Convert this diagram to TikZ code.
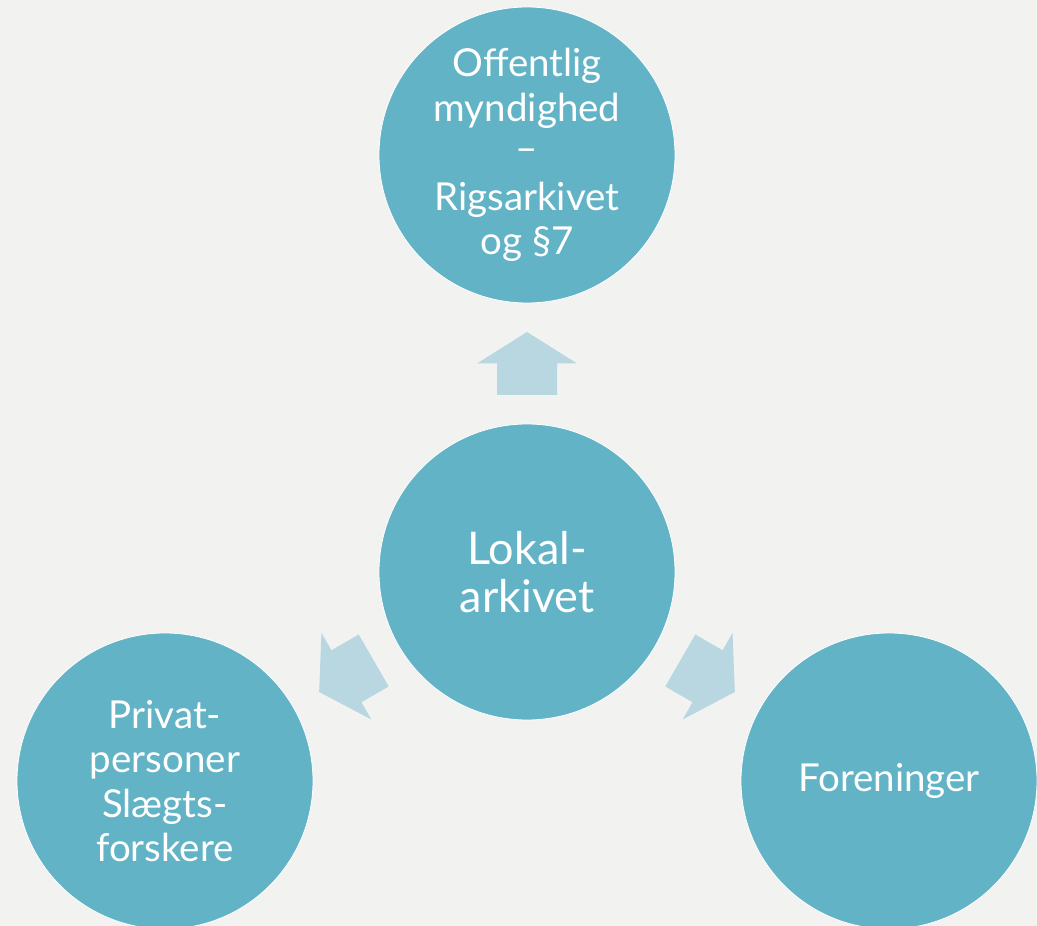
\documentclass[tikz,border=0pt]{standalone}
\usepackage{fontspec}
\setmainfont{Lato}
\definecolor{bg}{HTML}{F2F2F0}
\definecolor{circ}{HTML}{63B3C7}
\definecolor{arr}{HTML}{B8D7E1}
\tikzset{
  bubble/.style={circle, minimum size=296pt, inner sep=0pt, fill=circ, draw=white, line width=0.8pt,
    text=white, align=center, font=\fontsize{38.5}{44.5}\selectfont},
  bigbubble/.style={bubble, font=\fontsize{45}{48}\selectfont},
  blockarrow/.style={fill=arr, draw=none}
}
\newcommand{\blockarrowshape}{%
  (-31.5,-30) -- (0,-30) -- (0,-50) -- (31.5,0) -- (0,50) -- (0,30) -- (-31.5,30) -- cycle}
\begin{document}
\begin{tikzpicture}[x=1pt,y=1pt]
  \fill[bg] (0,0) rectangle (1037,926);
  \useasboundingbox (0,0) rectangle (1037,926);
  \node[bigbubble] (ctr) at (527,354) {Lokal-\\arkivet};
  \node[bubble] (top) at (527,771) {Offentlig\\myndighed\\\raisebox{0.12em}{–}\\Rigsarkivet\\og §7};
  \node[bubble] (left) at (165,145) {Privat-\\personer\\Slægts-\\forskere};
  \node[bubble] (right) at (889,145) {Foreninger};
  \foreach \ang/\nm in {90/a1,210/a2,330/a3} {
    \path (ctr.center) ++(\ang:208.5) coordinate (\nm);
    \begin{scope}[shift={(\nm)}, rotate=\ang]
      \fill[blockarrow] \blockarrowshape;
    \end{scope}
  }
\end{tikzpicture}
\end{document}
